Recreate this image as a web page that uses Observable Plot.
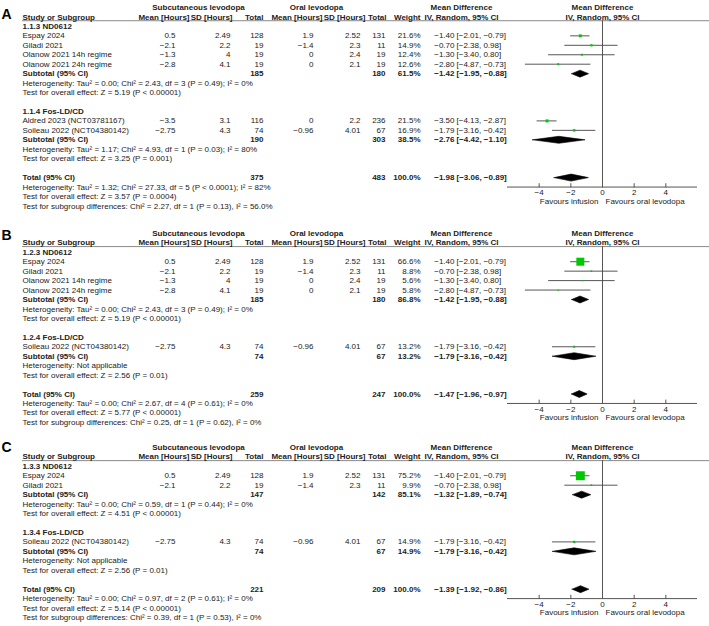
<!DOCTYPE html>
<html><head><meta charset="utf-8">
<script src="https://cdn.jsdelivr.net/npm/d3@7"></script>
<script src="https://cdn.jsdelivr.net/npm/@observablehq/plot@0.6"></script>
<style>body{margin:0;background:#fff}</style>
</head><body><div id="chart"></div>
<script>
// ---------- data ----------
const studyNames = ["Espay 2024", "Giladi 2021", "Olanow 2021 14h regime", "Olanow 2021 24h regime", "Aldred 2023 (NCT03781167)", "Soileau 2022 (NCT04380142)"];
const studyGroup = [0, 0, 0, 0, 1, 1];
const subMean = [0.5, -2.1, -1.3, -2.8, -3.5, -2.75];
const subSD = [2.49, 2.2, 4, 4.1, 3.1, 4.3];
const subN = [128, 19, 19, 19, 116, 74];
const oralMean = [1.9, -1.4, 0, 0, 0, -0.96];
const oralSD = [2.52, 2.3, 2.4, 2.1, 2.2, 4.01];
const oralN = [131, 11, 19, 19, 236, 67];
const md = [-1.40, -0.70, -1.30, -2.80, -3.50, -1.79];
const mdLo = [-2.01, -2.38, -3.40, -4.87, -4.13, -3.16];
const mdHi = [-0.79, 0.98, 0.80, -0.73, -2.87, -0.42];

const panelLabels = ["A", "B", "C"];
const panelStudies = [[0, 1, 2, 3, 4, 5], [0, 1, 2, 3, 5], [0, 1, 5]];
const panelWeights = [[21.6, 14.9, 12.4, 12.6, 21.5, 16.9], [66.6, 8.8, 5.6, 5.8, 13.2], [75.2, 9.9, 14.9]];
const subgroupCodes = [["1.1.3 ND0612", "1.1.4 Fos-LD/CD"], ["1.2.3 ND0612", "1.2.4 Fos-LD/CD"], ["1.3.3 ND0612", "1.3.4 Fos-LD/CD"]];

const subtotalSubN = [[185, 190], [185, 74], [147, 74]];
const subtotalOralN = [[180, 303], [180, 67], [142, 67]];
const subtotalWeight = [[61.5, 38.5], [86.8, 13.2], [85.1, 14.9]];
const subtotalMD = [[-1.42, -2.76], [-1.42, -1.79], [-1.32, -1.79]];
const subtotalLo = [[-1.95, -4.42], [-1.95, -3.16], [-1.89, -3.16]];
const subtotalHi = [[-0.88, -1.10], [-0.88, -0.42], [-0.74, -0.42]];
const subtotalHet = [
  ["Heterogeneity: Tau² = 0.00; Chi² = 2.43, df = 3 (P = 0.49); I² = 0%", "Heterogeneity: Tau² = 1.17; Chi² = 4.93, df = 1 (P = 0.03); I² = 80%"],
  ["Heterogeneity: Tau² = 0.00; Chi² = 2.43, df = 3 (P = 0.49); I² = 0%", "Heterogeneity: Not applicable"],
  ["Heterogeneity: Tau² = 0.00; Chi² = 0.59, df = 1 (P = 0.44); I² = 0%", "Heterogeneity: Not applicable"]
];
const subtotalTest = [
  ["Test for overall effect: Z = 5.19 (P < 0.00001)", "Test for overall effect: Z = 3.25 (P = 0.001)"],
  ["Test for overall effect: Z = 5.19 (P < 0.00001)", "Test for overall effect: Z = 2.56 (P = 0.01)"],
  ["Test for overall effect: Z = 4.51 (P < 0.00001)", "Test for overall effect: Z = 2.56 (P = 0.01)"]
];
const totalSubN = [375, 259, 221];
const totalOralN = [483, 247, 209];
const totalMD = [-1.98, -1.47, -1.39];
const totalLo = [-3.06, -1.96, -1.92];
const totalHi = [-0.89, -0.97, -0.86];
const totalHet = [
  "Heterogeneity: Tau² = 1.32; Chi² = 27.33, df = 5 (P < 0.0001); I² = 82%",
  "Heterogeneity: Tau² = 0.00; Chi² = 2.67, df = 4 (P = 0.61); I² = 0%",
  "Heterogeneity: Tau² = 0.00; Chi² = 0.97, df = 2 (P = 0.61); I² = 0%"
];
const totalTest = [
  "Test for overall effect: Z = 3.57 (P = 0.0004)",
  "Test for overall effect: Z = 5.77 (P < 0.00001)",
  "Test for overall effect: Z = 5.14 (P < 0.00001)"
];
const subgroupDiff = [
  "Test for subgroup differences: Chi² = 2.27, df = 1 (P = 0.13), I² = 56.0%",
  "Test for subgroup differences: Chi² = 0.25, df = 1 (P = 0.62), I² = 0%",
  "Test for subgroup differences: Chi² = 0.39, df = 1 (P = 0.53), I² = 0%"
];
const xTicks = [-4, -2, 0, 2, 4];

// ---------- layout ----------
const MINUS = "\u2212";
const fmtNum = v => (v < 0 ? MINUS + Math.abs(v) : String(v));
const f2 = d3.format(".2f");
const f1 = d3.format(".1f");
const ciText = (lo, hi) => `[${f2(lo)}, ${f2(hi)}]`;

const ROW_PX = 9.45, TOP_PX = 7, NROWS = 65;
const panelTop = [0, 23.9, 46.55];
const letterShift = [0.7, 0.25, 0];
const DH = 0.37; // diamond half height in rows

const table = [], studyRows = [], diamondPts = [], panels = [], ticks = [];
function addDiamond(id, row, m, lo, hi) {
  [[lo, row], [m, row - DH], [hi, row], [m, row + DH], [lo, row]].forEach(([x, y]) => diamondPts.push({id, x, y}));
}
panelLabels.forEach((label, p) => {
  const top = panelTop[p];
  let r = top + 2;
  subgroupCodes[p].forEach((code, g) => {
    table.push({row: r, bold: true, name: code}); r += 1;
    panelStudies[p].forEach((i, k) => {
      if (studyGroup[i] !== g) return;
      const w = panelWeights[p][k];
      table.push({row: r, bold: false, name: studyNames[i],
        m1: fmtNum(subMean[i]), s1: fmtNum(subSD[i]), n1: String(subN[i]),
        m2: fmtNum(oralMean[i]), s2: fmtNum(oralSD[i]), n2: String(oralN[i]),
        w: f1(w) + "%", est: f2(md[i]), ci: ciText(mdLo[i], mdHi[i])});
      studyRows.push({row: r, md: md[i], lo: mdLo[i], hi: mdHi[i], w});
      r += 1;
    });
    table.push({row: r, bold: true, name: "Subtotal (95% CI)",
      n1: String(subtotalSubN[p][g]), n2: String(subtotalOralN[p][g]),
      w: f1(subtotalWeight[p][g]) + "%", est: f2(subtotalMD[p][g]), ci: ciText(subtotalLo[p][g], subtotalHi[p][g])});
    addDiamond(p + "-" + g, r, subtotalMD[p][g], subtotalLo[p][g], subtotalHi[p][g]);
    r += 1;
    table.push({row: r, bold: false, name: subtotalHet[p][g]}); r += 1;
    table.push({row: r, bold: false, name: subtotalTest[p][g]}); r += 2;
  });
  table.push({row: r, bold: true, name: "Total (95% CI)",
    n1: String(totalSubN[p]), n2: String(totalOralN[p]),
    w: "100.0%", est: f2(totalMD[p]), ci: ciText(totalLo[p], totalHi[p])});
  addDiamond(p + "-T", r, totalMD[p], totalLo[p], totalHi[p]);
  const axis = r + 1;
  table.push({row: r + 1, bold: false, name: totalHet[p]});
  table.push({row: r + 2, bold: false, name: totalTest[p]});
  table.push({row: r + 3, bold: false, name: subgroupDiff[p]});
  panels.push({label, letter: top + letterShift[p], head0: top, head1: top + 1, line: top + 1.4, axis});
  xTicks.forEach(v => ticks.push({v, axis}));
});

// table columns: key, left offset (px), anchor
const cols = [["name", 22, "start"], ["m1", 175, "end"], ["s1", 230, "end"], ["n1", 263, "end"],
  ["m2", 313, "end"], ["s2", 360, "end"], ["n2", 385, "end"], ["w", 420, "end"], ["est", 454, "end"], ["ci", 456, "start"]];
const head0 = [["Subcutaneous levodopa", 198, "middle"], ["Oral levodopa", 316, "middle"], ["Mean Difference", 461, "middle"]];
const head1 = [["Study or Subgroup", 22, "start"], ["Mean [Hours]", 189, "end"], ["SD [Hours]", 232, "end"], ["Total", 263, "end"],
  ["Mean [Hours]", 322, "end"], ["SD [Hours]", 365, "end"], ["Total", 386, "end"], ["Weight", 420, "end"], ["IV, Random, 95% CI", 461, "middle"]];

const TXT = "#222";
const marks = [];
// header line
marks.push(Plot.ruleY(panels, {y: "line", insetLeft: 22, stroke: "#8a8a8a", strokeWidth: 1}));
// zero line and axis
marks.push(Plot.ruleX(panels, {x: () => 0, y1: "line", y2: "axis", stroke: "#555", strokeWidth: 1}));
marks.push(Plot.ruleY(panels, {y: "axis", x1: () => -6, x2: () => 6, stroke: "#555", strokeWidth: 1}));
marks.push(Plot.ruleX(ticks, {x: "v", y1: d => d.axis - 0.35, y2: d => d.axis + 0.1, stroke: "#555", strokeWidth: 1}));
marks.push(Plot.text(ticks, {x: "v", y: d => d.axis + 0.6, text: d => fmtNum(d.v), fill: TXT}));
marks.push(Plot.text(panels, {x: () => 0, y: d => d.axis + 1.5, text: () => "Favours infusion", textAnchor: "end", dx: -4, fill: TXT}));
marks.push(Plot.text(panels, {x: () => 0, y: d => d.axis + 1.5, text: () => "Favours oral levodopa", textAnchor: "start", dx: 3, fill: TXT}));
// forest header
marks.push(Plot.text(panels, {x: () => 0, y: "head0", text: () => "Mean Difference", fontWeight: "bold", fill: TXT}));
marks.push(Plot.text(panels, {x: () => 0, y: "head1", text: () => "IV, Random, 95% CI", fontWeight: "bold", fill: TXT}));
// whiskers, squares, diamonds
marks.push(Plot.ruleY(studyRows, {y: "row", x1: "lo", x2: "hi", stroke: "#444", strokeWidth: 0.9}));
marks.push(Plot.dot(studyRows, {x: "md", y: "row", r: "w", symbol: "square", fill: "#00c800", stroke: null}));
marks.push(Plot.line(diamondPts, {x: "x", y: "y", z: "id", fill: "black", stroke: "black", strokeWidth: 0.6}));
// table headers
head0.forEach(([t, dx, a]) => marks.push(Plot.text(panels, {y: "head0", text: () => t, frameAnchor: "left", dx, textAnchor: a, fontWeight: "bold", fill: TXT})));
head1.forEach(([t, dx, a]) => marks.push(Plot.text(panels, {y: "head1", text: () => t, frameAnchor: "left", dx, textAnchor: a, fontWeight: "bold", fill: TXT})));
// table body
cols.forEach(([key, dx, a]) => {
  [false, true].forEach(b => {
    const rows = table.filter(d => d[key] != null && d.bold === b);
    if (rows.length) marks.push(Plot.text(rows, {y: "row", text: key, frameAnchor: "left", dx, textAnchor: a,
      fontWeight: b ? "bold" : "normal", fill: TXT}));
  });
});
// panel letters
marks.push(Plot.text(panels, {y: "letter", text: "label", frameAnchor: "left", dx: 1, textAnchor: "start", fontSize: 14, fontWeight: "bold", fill: "#000"}));

const chart = Plot.plot({
  width: 709, height: 626,
  marginTop: 0, marginBottom: 0, marginLeft: 0, marginRight: 0,
  style: {fontFamily: "'Liberation Sans', Arial, sans-serif", fontSize: "8px", background: "#fff", color: TXT},
  x: {domain: [-6, 6], range: [507, 697], axis: null},
  y: {domain: [0, NROWS], range: [TOP_PX, TOP_PX + NROWS * ROW_PX], axis: null},
  r: {type: "linear", domain: [0, 100], range: [0.34, 6.6]},
  marks
});
document.getElementById("chart").appendChild(chart);
</script></body></html>
